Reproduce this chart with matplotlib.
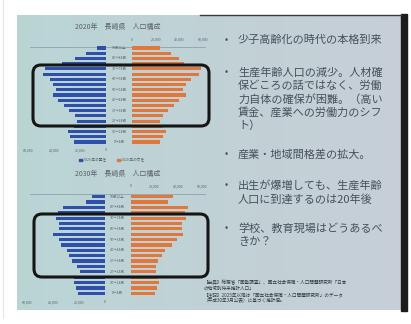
import matplotlib
matplotlib.use("Agg")
import matplotlib.pyplot as plt
import numpy as np
from matplotlib.patches import FancyBboxPatch, Rectangle
from matplotlib.transforms import blended_transform_factory

plt.rcParams['font.family'] = ['Noto Sans CJK JP', 'DejaVu Sans']

# age groups, youngest first
ages = ['0～4歳', '5～9歳', '10～14歳', '15～19歳', '20～24歳', '25～29歳', '30～34歳',
        '35～39歳', '40～44歳', '45～49歳', '50～54歳', '55～59歳', '60～64歳',
        '65～69歳', '70～74歳', '75～79歳', '80～84歳', '85～89歳', '90歳以上']

male_2020 = [24400, 27700, 29000, 25000, 22500, 23800, 28200, 32300, 36700, 40500,
             38500, 40500, 43000, 48700, 47000, 34000, 23800, 15400, 6700]
female_2020 = [23300, 25800, 28900, 25800, 23300, 25800, 30000, 35800, 40000, 45500,
               43300, 45500, 49700, 56700, 58000, 44000, 40000, 33000, 23300]
male_2030 = [20500, 22300, 24000, 23600, 19000, 21000, 24800, 27400, 28700, 33300,
             35000, 39500, 35000, 35000, 37700, 36000, 32500, 14600, 9500]
female_2030 = [20500, 22500, 24200, 23400, 21400, 21400, 23400, 26200, 29000, 34600,
               38900, 44500, 43100, 43700, 46500, 45900, 48700, 31800, 36000]

ticks = [0, 20000, 40000, 60000]
tick_labels = ['0', '20,000', '40,000', '60,000']

bullets = [
    ['少子高齢化の時代の本格到来'],
    ['生産年齢人口の減少。人材確', '保どころの話ではなく、労働', '力自体の確保が困難。（高い',
     '賃金、産業への労働力のシフ', 'ト）'],
    ['産業・地域間格差の拡大。'],
    ['出生が爆増しても、生産年齢', '人口に到達するのは20年後'],
    ['学校、教育現場はどうあるべ', 'きか？'],
]
bullet_y = [[40], [72, 85.5, 99, 112.5, 126], [154], [185, 200], [228, 242]]

notes = ['【出典】総務省「国勢調査」、国立社会保障・人口問題研究所「日本',
         'の地域別将来推計人口」',
         '【注記】2025年以降は「国立社会保障・人口問題研究所」のデータ',
         '（平成30年3月公表）に基づく推計値。']
notes_y = [282.5, 288, 295, 300.5]

W, H = 411, 324
fig = plt.figure(figsize=(W / 100, H / 100), dpi=100)
fig.patch.set_facecolor('white')

# background layer in pixel coordinates
bg = fig.add_axes([0, 0, 1, 1], zorder=-5)
bg.set_xlim(0, W)
bg.set_ylim(H, 0)
bg.axis('off')
grad = np.linspace(0, 1, 256)[None, :, None]
c0 = np.array([0.73, 0.835, 0.835])
c1 = np.array([0.78, 0.81, 0.845])
bg.imshow(c0 + (c1 - c0) * grad, extent=(17, 401, 310, 15), aspect='auto')
bg.add_patch(Rectangle((401, 14), 6, 297, color='#1c1c1c'))
bg.plot([200, 401], [14.5, 14.5], color='#3a3a3a', lw=1.0)
bg.plot([3, 3], [0, 318], color='#e6e6e6', lw=0.8)
bg.set_xlim(0, W)
bg.set_ylim(H, 0)

blue = '#2f50aa'
orange = '#e2773c'
grey = '#5a6268'


def add_ax(x0, x1, ytop, ybot):
    return fig.add_axes([x0 / W, 1 - ybot / H, (x1 - x0) / W, (ybot - ytop) / H])


def pyramid(male, female, title, title_y, row0_y, step, m_x, f_x, line_y,
            top_pad, bot_pad, label_x):
    ytop = row0_y - step * 18.5
    ybot = row0_y + step * 0.5
    y = np.arange(len(ages))
    axm = add_ax(m_x[0], m_x[1], ytop, ybot)
    axf = add_ax(f_x[0], f_x[1], ytop, ybot)
    axm.barh(y, male, height=0.6, color=blue)
    axf.barh(y, female, height=0.6, color=orange)
    axm.set_xlim(60000, 0)
    axf.set_xlim(0, 60000)
    for ax in (axm, axf):
        ax.set_ylim(-0.5, 18.5)
        ax.patch.set_alpha(0)
        for s in ax.spines.values():
            s.set_visible(False)
        ax.set_yticks([])
        ax.set_xticks(ticks)
        ax.set_xticklabels(tick_labels, fontsize=2.6, color=grey)
        ax.tick_params(length=0)
    axf.xaxis.tick_top()
    axf.tick_params(pad=top_pad)
    axm.tick_params(pad=bot_pad)
    tr = blended_transform_factory(bg.transData, axf.transData)
    for i in range(0, len(ages), 2):
        fig.text(label_x, i, ages[i], transform=tr, fontsize=2.6, color=grey,
                 ha='center', va='center')
    bg.plot([30, 205], [line_y, line_y], color='#8aa3ac', lw=0.6)
    bg.text(118, title_y, title, fontsize=5, color=grey, ha='center', va='center')


pyramid(male_2020, female_2020, '2020年　長崎県　人口構成', 27, 142, 5.22,
        (28, 106), (132, 203), 47, 2.8, 2.8, 119)
pyramid(male_2030, female_2030, '2030年　長崎県　人口構成', 174, 293.3, 5.37,
        (27, 104.5), (130.7, 201.7), 194, 4.0, 3.0, 117.5)

# legend of the upper chart
bg.add_patch(Rectangle((79, 158.5), 2.5, 2.5, color=blue))
bg.text(83, 160, '2020 年の男性', fontsize=2.6, color=grey, va='center')
bg.add_patch(Rectangle((117, 158.5), 2.5, 2.5, color=orange))
bg.text(121, 160, '2020 年の女性', fontsize=2.6, color=grey, va='center')

# overlay: frames and slide text
ov = fig.add_axes([0, 0, 1, 1], zorder=5)
ov.set_xlim(0, W)
ov.set_ylim(H, 0)
ov.axis('off')
ov.patch.set_alpha(0)
for (x0, x1, y0, y1) in [(33, 209, 65, 126), (34, 208, 214, 277)]:
    ov.add_patch(FancyBboxPatch((x0, y0), x1 - x0, y1 - y0,
                                boxstyle='round,pad=0,rounding_size=8',
                                fill=False, ec='#151515', lw=2.2))

txt_color = '#485058'
for lines, ys in zip(bullets, bullet_y):
    ov.text(226, ys[0], '•', fontsize=7, color=txt_color, ha='center', va='center')
    for line, yy in zip(lines, ys):
        ov.text(238, yy, line, fontsize=8.0, color=txt_color, va='center')

for line, yy in zip(notes, notes_y):
    ov.text(204, yy, line, fontsize=3.3, color='#333a40', va='center')

fig.savefig('out.png', dpi=100)
